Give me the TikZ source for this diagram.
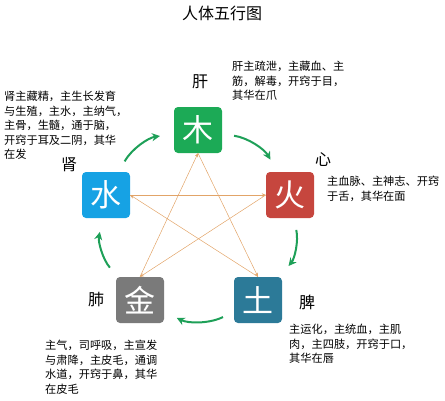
\documentclass[tikz,border=0pt]{standalone}
\usepackage{fontspec}
\setmainfont{Noto Sans CJK SC}
\usetikzlibrary{arrows.meta}

\definecolor{muGreen}{RGB}{28,170,86}
\definecolor{huoRed}{RGB}{198,70,62}
\definecolor{tuTeal}{RGB}{44,122,152}
\definecolor{jinGray}{RGB}{122,122,122}
\definecolor{shuiBlue}{RGB}{22,162,228}
\definecolor{shengGreen}{RGB}{30,160,88}
\definecolor{keOrange}{RGB}{226,164,104}

\begin{document}
\begin{tikzpicture}[
  x=1pt, y=-1pt,
  element/.style = {
    shape=rectangle,
    rounded corners=4pt,
    minimum width=48pt,
    minimum height=46pt,
    text=white,
    font=\fontsize{31}{31}\selectfont
  },
  organ/.style = {
    font=\fontsize{16}{16}\selectfont
  },
  note/.style = {
    anchor=north west,
    inner sep=0pt,
    align=left,
    font=\fontsize{11.2}{14.5}\selectfont
  },
  sheng/.style = {
    -{Stealth[length=8pt,width=8pt]},
    line width=2pt,
    draw=shengGreen,
    shorten <=12pt,
    shorten >=14pt
  },
  ke/.style = {
    -{Stealth[length=4pt,width=3.5pt]},
    line width=0.5pt,
    draw=keOrange
  },
]
  \useasboundingbox (0,0) rectangle (445,400);

  \node (title) at (222,13) {\fontsize{16}{16}\selectfont 人体五行图};

  % the five elements
  \node (mu)[element, fill=muGreen] at (198,130) {木};
  \node (huo)[element, fill=huoRed] at (290,195) {火};
  \node (tu)[element, fill=tuTeal] at (258,300) {土};
  \node (jin)[element, fill=jinGray] at (140,300) {金};
  \node (shui)[element, fill=shuiBlue] at (106,195) {水};

  % organs
  \node (gan)[organ] at (200,82) {肝};
  \node (xin)[organ] at (323,160) {心};
  \node (pi)[organ] at (307,302) {脾};
  \node (fei)[organ] at (96,300) {肺};
  \node (shen)[organ] at (69,165) {肾};

  % notes
  \node (ganNote)[note] at (232,61) {肝主疏泄，主藏血、主\\筋，解毒，开窍于目，\\其华在爪};
  \node (xinNote)[note] at (327,176) {主血脉、主神志、开窍\\于舌，其华在面};
  \node (piNote)[note] at (289,324) {主运化，主统血，主肌\\肉，主四肢，开窍于口，\\其华在唇};
  \node (feiNote)[note] at (45,340) {主气，司呼吸，主宣发\\与肃降，主皮毛，通调\\水道，开窍于鼻，其华\\在皮毛};
  \node (shenNote)[note] at (4,91) {肾主藏精，主生长发育\\与生殖，主水，主纳气，\\主骨，生髓，通于脑，\\开窍于耳及二阴，其华\\在发};

  % generating cycle
  \draw[sheng] (shui) to[bend left=26] (mu);
  \draw[sheng] (mu) to[bend left=26] (huo);
  \draw[sheng] (huo) to[bend left=26] (tu);
  \draw[sheng] (tu) to[bend left=26] (jin);
  \draw[sheng] (jin) to[bend left=26] (shui);

  % controlling cycle
  \draw[ke] (mu.south) -- (tu.north);
  \draw[ke] (tu.north) -- (shui.east);
  \draw[ke] (shui.east) -- (huo.west);
  \draw[ke] (huo.west) -- (jin.north);
  \draw[ke] (jin.north) -- (mu.south);
\end{tikzpicture}
\end{document}
